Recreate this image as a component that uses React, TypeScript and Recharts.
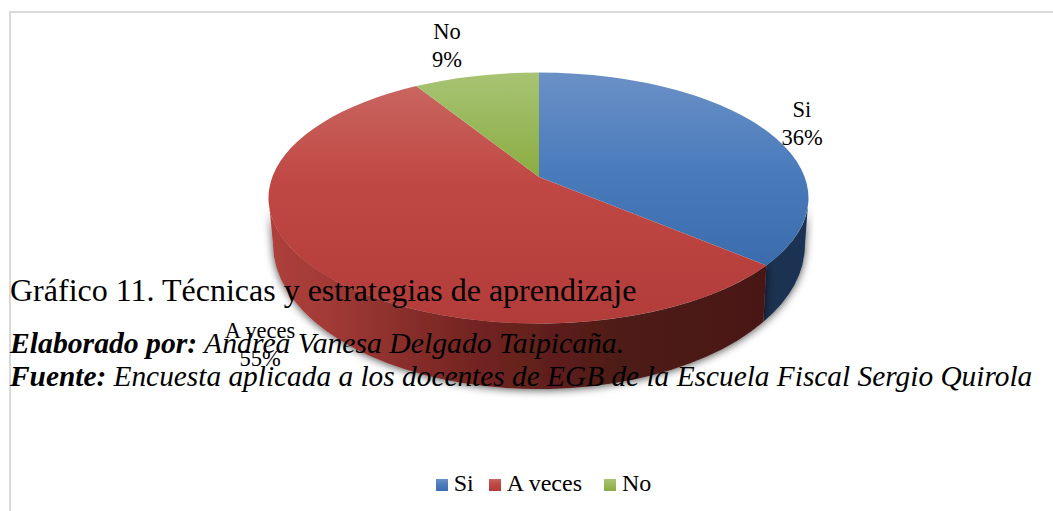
import { PieChart, Pie, Legend } from 'recharts'

const NAMES = ['Si', 'A veces', 'No']
const VALUES = [36, 55, 9]
const FACE_FILLS = ['url(#faceBlue)', 'url(#faceRed)', 'url(#faceGreen)']
const WALL_FILLS = ['url(#wallBlue)', 'url(#wallRed)', 'none']
const LEGEND_GAPS = [5, 12, 0]

const data = NAMES.map((name, i) => ({ name, value: VALUES[i], fill: FACE_FILLS[i] }))

const serif = '"Liberation Serif", "Times New Roman", serif'

// the 3D look: apex sits above the centre of the top ellipse
const APEX = { x: 539, y: 177 }
const TILT = 0.47
const TOP = { cx: 538.5, cy: 198, rx: 270, ry: 125.5 }
const LOW = { cx: 539, cy: 244, rx: 266, ry: 145 }

const LABEL_POS: Record<string, [number, number]> = {
  Si: [802, 117],
  'A veces': [260, 338],
  No: [447, 39],
}

// clockwise angle on the top ellipse hit by the ray of a pie angle
function rimAngle(pieAngle: number) {
  const a = ((90 - pieAngle) * Math.PI) / 180
  const dx = Math.sin(a) / TOP.rx
  const dy = (-Math.cos(a) * TILT) / TOP.ry
  const ox = (APEX.x - TOP.cx) / TOP.rx
  const oy = (APEX.y - TOP.cy) / TOP.ry
  const A = dx * dx + dy * dy
  const B = 2 * (ox * dx + oy * dy)
  const C = ox * ox + oy * oy - 1
  const t = (-B + Math.sqrt(B * B - 4 * A * C)) / (2 * A)
  const ux = ox + t * dx
  const uy = oy + t * dy
  let th = Math.atan2(ux, -uy)
  if (th < -1e-6) th += Math.PI * 2
  return th
}

const onRim = (e: typeof TOP, th: number) => [e.cx + e.rx * Math.sin(th), e.cy - e.ry * Math.cos(th)]

function FaceShape(props: any) {
  const s = rimAngle(props.startAngle)
  let e = rimAngle(props.endAngle)
  if (e <= s) e += Math.PI * 2
  const [x1, y1] = onRim(TOP, s)
  const [x2, y2] = onRim(TOP, e)
  const large = e - s > Math.PI ? 1 : 0
  const d = `M${APEX.x},${APEX.y} L${x1},${y1} A${TOP.rx},${TOP.ry} 0 ${large} 1 ${x2},${y2} Z`
  return <path d={d} fill={props.fill} />
}

function WallShape(props: any) {
  const fill = WALL_FILLS[NAMES.indexOf(props.name)]
  let s = rimAngle(props.startAngle)
  let e = rimAngle(props.endAngle)
  if (e <= s) e += Math.PI * 2
  s = Math.max(s, Math.PI / 2)
  e = Math.min(e, (Math.PI * 3) / 2)
  if (e <= s || fill === 'none') return <g />
  const [x1, y1] = onRim(TOP, s)
  const [x2, y2] = onRim(TOP, e)
  const [x3, y3] = onRim(LOW, e)
  const [x4, y4] = onRim(LOW, s)
  const d =
    `M${x1},${y1} A${TOP.rx},${TOP.ry} 0 0 1 ${x2},${y2} L${x3},${y3} ` +
    `A${LOW.rx},${LOW.ry} 0 0 0 ${x4},${y4} Z`
  return <path d={d} fill={fill} filter="url(#wallShadow)" />
}

function renderLabel(props: any) {
  const pos = LABEL_POS[props.name]
  return (
    <text x={pos[0]} y={pos[1]} textAnchor="middle" fontFamily={serif} fontSize={22.5} fill="#000">
      <tspan x={pos[0]}>{props.name}</tspan>
      <tspan x={pos[0]} dy={28}>{`${Math.round(props.percent * 100)}%`}</tspan>
    </text>
  )
}

const caption: React.CSSProperties = {
  position: 'absolute',
  left: 10,
  whiteSpace: 'nowrap',
  fontFamily: serif,
  color: '#000',
}

export default function App() {
  return (
    <div style={{ position: 'absolute', left: 0, top: 0, width: 1053, height: 511, background: '#fff', overflow: 'hidden' }}>
      <div style={{ position: 'absolute', left: 9, top: 11, width: 1044, height: 2, background: '#d9d9d9' }} />
      <div style={{ position: 'absolute', left: 9, top: 11, width: 2, height: 500, background: '#d9d9d9' }} />
      <PieChart width={1053} height={511} style={{ position: 'absolute', left: 0, top: 0, fontFamily: serif }}>
        <defs>
          <linearGradient id="faceBlue" x1="0" y1="0" x2="0" y2="1">
            <stop offset="0" stopColor="#6b90c6" />
            <stop offset="0.5" stopColor="#4a7cbc" />
            <stop offset="1" stopColor="#3b6dae" />
          </linearGradient>
          <linearGradient id="faceRed" x1="0" y1="0" x2="0" y2="1">
            <stop offset="0" stopColor="#c9655f" />
            <stop offset="0.4" stopColor="#c04844" />
            <stop offset="1" stopColor="#b23c3a" />
          </linearGradient>
          <linearGradient id="faceGreen" x1="0" y1="0" x2="0" y2="1">
            <stop offset="0" stopColor="#a8c474" />
            <stop offset="1" stopColor="#8aac42" />
          </linearGradient>
          <linearGradient id="wallRed" x1="0" y1="0" x2="1" y2="0">
            <stop offset="0" stopColor="#ae403c" />
            <stop offset="0.12" stopColor="#a23a36" />
            <stop offset="0.4" stopColor="#752522" />
            <stop offset="0.7" stopColor="#4e1a17" />
            <stop offset="1" stopColor="#4a1916" />
          </linearGradient>
          <linearGradient id="wallBlue" x1="0" y1="0" x2="1" y2="0">
            <stop offset="0" stopColor="#1a2f4f" />
            <stop offset="1" stopColor="#1b3354" />
          </linearGradient>
          <filter id="wallShadow" x="-10%" y="-10%" width="120%" height="125%">
            <feDropShadow dx="0" dy="1" stdDeviation="4" floodColor="#000" floodOpacity="0.7" />
          </filter>
        </defs>
        <Pie
          data={data}
          dataKey="value"
          nameKey="name"
          cx={APEX.x}
          cy={APEX.y}
          outerRadius={270}
          startAngle={90}
          endAngle={-270}
          stroke="none"
          legendType="none"
          shape={WallShape}
          isAnimationActive={false}
        />
        <Pie
          data={data}
          dataKey="value"
          nameKey="name"
          cx={APEX.x}
          cy={APEX.y}
          outerRadius={270}
          startAngle={90}
          endAngle={-270}
          stroke="none"
          shape={FaceShape}
          label={renderLabel}
          labelLine={false}
          isAnimationActive={false}
        />
        <Legend
          iconType="square"
          iconSize={12}
          itemSorter={null}
          wrapperStyle={{ position: 'absolute', left: 22, top: 470, width: 1053, fontSize: 24, textAlign: 'center' }}
          formatter={(value: string) => (
            <span style={{ color: '#000', marginLeft: 2, marginRight: LEGEND_GAPS[NAMES.indexOf(value)] }}>{value}</span>
          )}
        />
      </PieChart>
      <div style={{ ...caption, top: 272, fontSize: 32 }}>Gráfico 11. Técnicas y estrategias de aprendizaje</div>
      <div style={{ ...caption, top: 327, fontSize: 29.7, fontStyle: 'italic' }}>
        <b>Elaborado por:</b> Andrea Vanesa Delgado Taipicaña.
      </div>
      <div style={{ ...caption, top: 360, fontSize: 29.35, fontStyle: 'italic' }}>
        <b>Fuente:</b> Encuesta aplicada a los docentes de EGB de la Escuela Fiscal Sergio Quirola
      </div>
    </div>
  )
}
